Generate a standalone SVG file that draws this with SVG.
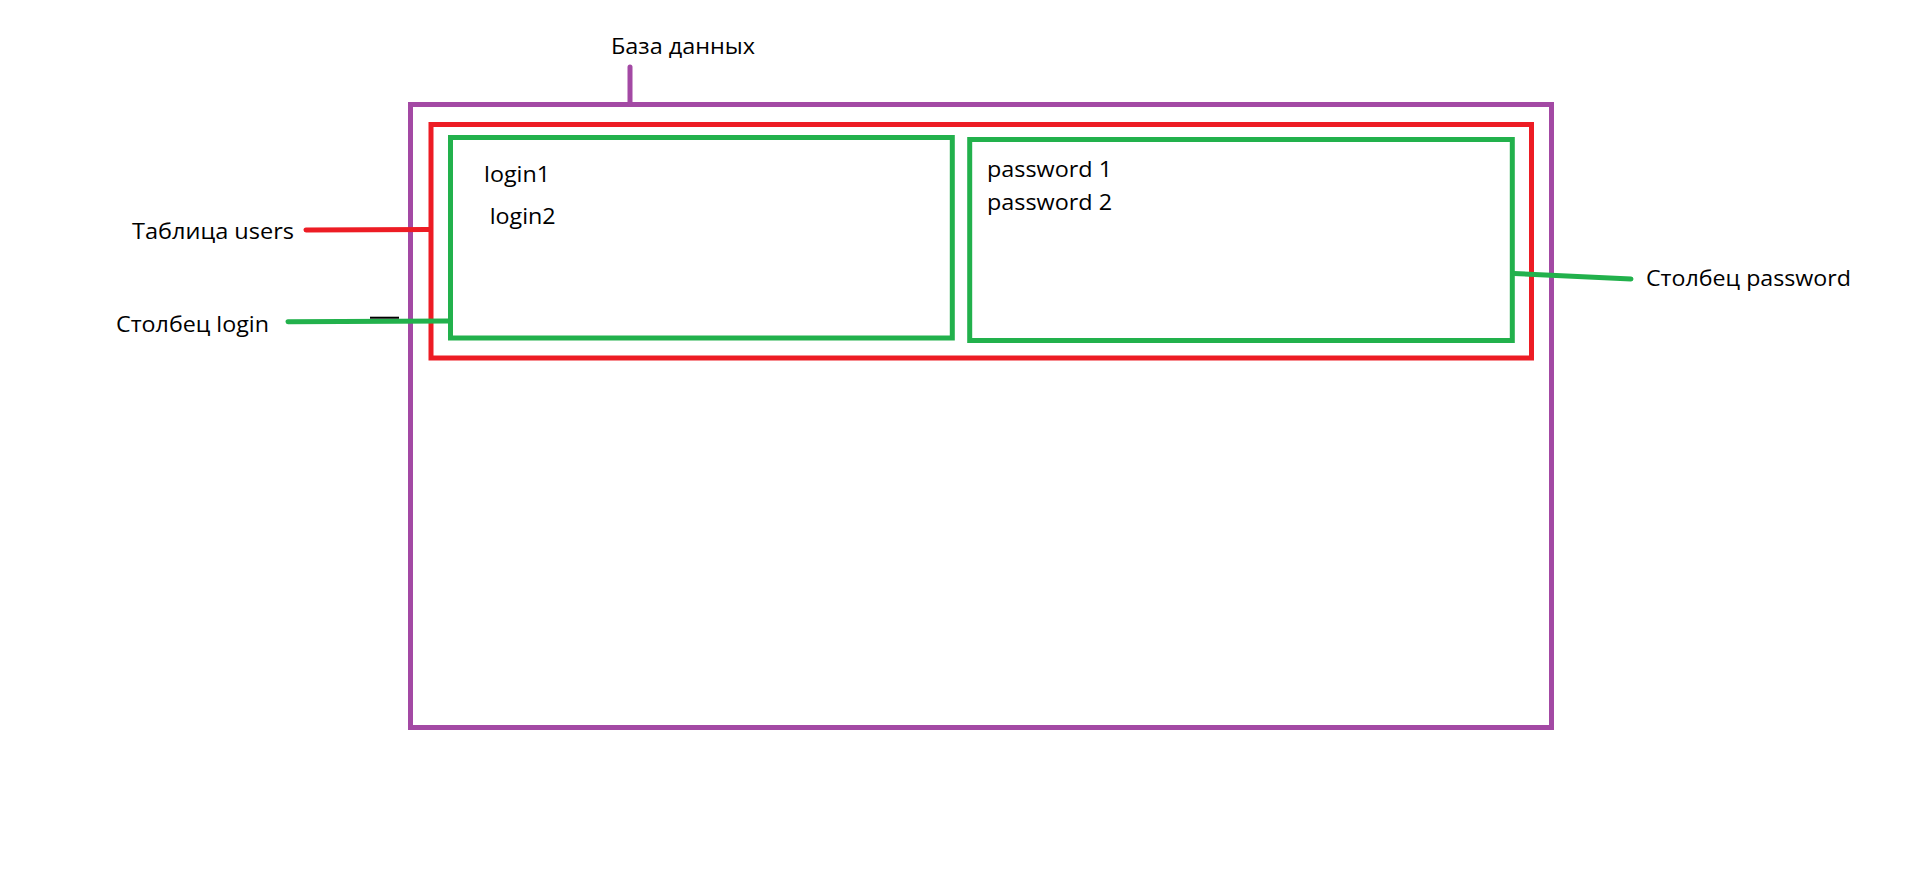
<svg xmlns="http://www.w3.org/2000/svg" width="1914" height="879" viewBox="0 0 1914 879">
<style>
text{font-family:"Open Sans","Liberation Sans",sans-serif;font-size:22px;fill:#000}
.box{fill:none;stroke-width:5}
.db{stroke:#A349A4}
.tb{stroke:#ED1C24}
.col{stroke:#22B14C}
.ln{fill:none;stroke-width:5;stroke-linecap:round}
</style>
<rect width="1914" height="879" fill="#fff"/>
<g id="database">
<rect class="box db" x="410.5" y="104.5" width="1141" height="623"/>
<text x="611" y="54" textLength="144" lengthAdjust="spacingAndGlyphs">База данных</text>
</g>
<g id="table-users">
<rect class="box tb" x="431" y="124.5" width="1100.5" height="233.5"/>
<text x="132" y="239" textLength="162" lengthAdjust="spacingAndGlyphs">Таблица users</text>
</g>
<g id="column-login">
<rect class="box col" x="450.5" y="137.5" width="501.8" height="200.5"/>
<text x="484" y="181.7" textLength="66" lengthAdjust="spacingAndGlyphs">login1</text>
<text x="489.7" y="224" textLength="66" lengthAdjust="spacingAndGlyphs">login2</text>
<text x="116" y="331.7" textLength="153" lengthAdjust="spacingAndGlyphs">Столбец login</text>
</g>
<g id="column-password">
<rect class="box col" x="969.7" y="139.5" width="542.6" height="201"/>
<text x="987" y="176.7" textLength="125" lengthAdjust="spacingAndGlyphs">password 1</text>
<text x="987" y="210" textLength="125" lengthAdjust="spacingAndGlyphs">password 2</text>
<text x="1646" y="286" textLength="205" lengthAdjust="spacingAndGlyphs">Столбец password</text>
</g>
<g id="connectors">
<path class="ln db" d="M630 67 L630 104"/>
<path class="ln tb" d="M306 230 L430 229.5"/>
<path class="ln col" d="M288 321.7 L448 321"/>
<path d="M370 317.7 L399 317.7" stroke="#000" stroke-width="2"/>
<path class="ln col" d="M1514 273.5 L1631 279"/>
</g>
</svg>
